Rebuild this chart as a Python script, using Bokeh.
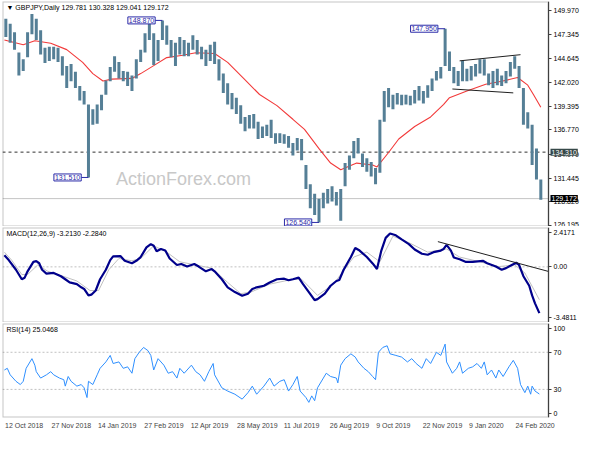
from bokeh.plotting import figure
from bokeh.models import (Range1d, LinearAxis, FixedTicker, Label, BoxAnnotation,
                          ColumnDataSource, PrintfTickFormatter)
from bokeh.layouts import column
from bokeh.embed import file_html
from bokeh.resources import INLINE

# ---------------- data ----------------
title_price = "\u25bc GBPJPY,Daily  129.781 130.328 129.041 129.172"
title_macd = "MACD(12,26,9) -3.2130 -2.2840"
title_rsi = "RSI(14) 25.0468"

# 3-session bars: highs / lows
bar_high = [149.05, 148.51, 147.56, 145.33, 144.58, 147.56, 149.58, 149.05, 147.77, 145.86,
            145.96, 145.96, 145.86, 144.90, 143.84, 144.05, 143.20, 141.61, 141.07, 139.58,
            139.05, 139.58, 140.65, 142.24, 143.73, 144.90, 144.26, 143.29, 143.20, 142.77,
            144.58, 145.64, 147.45, 148.62, 147.45, 146.71, 148.87, 148.30, 146.71, 146.39,
            147.03, 146.71, 146.39, 147.24, 146.71, 145.96, 145.64, 146.18, 146.50, 144.58,
            142.99, 141.92, 140.86, 140.33, 139.48, 138.20, 138.42, 138.52, 137.67, 137.14,
            137.35, 137.89, 136.40, 136.40, 136.29, 136.08, 135.33, 135.86, 135.76, 132.89,
            130.76, 129.70, 129.17, 129.81, 130.23, 130.55, 129.91, 130.23, 133.10, 133.95,
            135.55, 135.86, 134.16, 133.63, 133.21, 132.57, 137.89, 141.07, 141.39, 140.65,
            140.86, 140.65, 140.65, 140.54, 141.18, 141.61, 141.07, 141.71, 142.46, 143.29,
            143.73, 147.95, 145.43, 143.73, 143.29, 144.37, 143.52, 143.84, 144.05, 144.58,
            144.58, 142.99, 143.29, 143.52, 142.77, 143.29, 144.26, 144.90, 143.84, 141.39,
            138.73, 137.35, 134.70, 131.29]
bar_low = [147.03, 146.39, 145.64, 142.77, 143.29, 144.79, 147.35, 146.71, 145.11, 144.16,
           144.37, 144.58, 144.26, 142.77, 141.39, 142.14, 141.39, 140.01, 139.58, 131.51,
           137.35, 137.46, 138.95, 140.65, 142.14, 143.20, 142.46, 142.14, 141.61, 141.07,
           142.46, 144.26, 145.33, 146.71, 143.94, 144.37, 146.71, 146.18, 144.79, 143.84,
           145.11, 144.90, 144.90, 145.64, 145.11, 144.58, 143.84, 144.37, 144.05, 142.24,
           140.86, 139.58, 139.05, 138.52, 137.46, 136.61, 136.93, 136.93, 135.76, 135.86,
           136.08, 135.86, 135.23, 135.33, 135.23, 134.80, 133.95, 134.48, 133.42, 130.23,
           128.10, 127.36, 126.54, 128.10, 128.64, 128.85, 128.42, 126.72, 130.55, 132.36,
           133.63, 134.16, 132.68, 132.14, 131.61, 130.76, 132.04, 137.67, 139.27, 139.05,
           139.58, 139.48, 139.58, 139.48, 139.69, 140.01, 139.69, 140.33, 141.07, 142.24,
           142.46, 143.84, 143.29, 141.92, 141.61, 142.14, 142.14, 142.24, 142.67, 142.99,
           142.77, 141.71, 141.39, 141.71, 141.61, 141.92, 142.67, 143.52, 141.39, 137.35,
           136.93, 132.89, 131.29, 129.04]
bar_day = [3 * k + 1 for k in range(len(bar_high))]

# moving average (red)
ma_day = [0, 13, 21, 32, 43, 54, 61, 68, 74, 88, 94, 103, 112, 123, 132, 145, 154, 165, 176, 188,
          199, 207, 217, 225, 232, 243, 254, 257, 265, 272, 283, 294, 303, 307, 319, 332, 343, 354,
          361, 365, 370]
ma_val = [146.71, 146.18, 146.63, 146.35, 145.64, 144.23, 142.99, 142.17, 142.38, 142.46, 142.99,
          143.87, 144.76, 145.01, 145.29, 145.22, 144.23, 142.46, 140.68, 139.45, 137.94, 136.82,
          134.69, 133.10, 132.36, 133.10, 132.89, 132.68, 134.27, 135.76, 137.14, 138.20, 139.58,
          140.33, 141.07, 141.82, 142.14, 142.56, 141.71, 140.65, 139.27]

# marked extremes
marked_highs = [148.87, 147.95]
marked_lows = [131.51, 126.54]

# horizontal levels
level_dashed = 134.31
level_last = 129.172

# channel lines (day, price)
chan_up_day = [314, 356]
chan_up_val = [144.40, 145.08]
chan_lo_day = [309, 351]
chan_lo_val = [141.29, 140.86]

price_ticks = [126.195, 128.820, 131.445, 134.070, 136.770, 139.395, 142.020, 144.645, 147.345, 149.970]

# MACD main / signal
macd_day = [0, 3, 8, 12, 14, 16, 20, 22, 24, 26, 29, 34, 39, 42, 45, 50, 53, 55, 58, 60,
            63, 66, 70, 73, 75, 80, 83, 88, 91, 94, 98, 101, 103, 105, 108, 111, 114, 119, 122, 126,
            131, 134, 139, 143, 145, 150, 154, 159, 164, 168, 171, 174, 179, 183, 188, 193, 196, 199, 203, 206,
            210, 214, 216, 221, 225, 229, 231, 234, 239, 242, 245, 250, 254, 257, 260, 263, 266, 270, 274, 279,
            283, 288, 292, 296, 301, 303, 305, 308, 310, 314, 318, 323, 330, 333, 339, 343, 346, 350, 353, 355,
            358, 362, 364, 366, 369]
macd_val = [0.80, 0.47, -0.20, -0.86, -0.75, -0.31, 0.35, 0.40, 0.25, -0.20,
            -0.47, -0.42, -0.65, -0.86, -1.08, -1.20, -1.42, -1.53, -1.98, -1.93,
            -1.64, -0.86, -0.20, 0.47, 0.73, 0.75, 0.42, 0.25, 0.42, 0.68,
            1.35, 1.58, 1.46, 1.08, 1.24, 1.13, 0.58, 0.13, 0.20, 0.02,
            0.20, 0.02, -0.31, -0.15, -0.31, -0.86, -1.42, -1.75, -2.01, -1.86,
            -1.53, -1.42, -1.31, -1.08, -0.86, -0.82, -0.93, -0.86, -0.75, -1.20,
            -1.75, -2.31, -2.24, -1.86, -1.31, -0.98, -0.91, -0.20, 0.68, 1.31,
            1.13, 0.68, 0.24, -0.15, 1.13, 2.01, 2.31, 2.19, 1.91, 1.58,
            1.20, 0.91, 0.84, 1.02, 1.13, 1.24, 1.53, 1.13, 0.65, 0.53,
            0.35, 0.35, 0.42, 0.25, 0.02, -0.20, -0.09, 0.13, 0.29, 0.13,
            -0.65, -1.31, -1.98, -2.53, -3.21]
sig_day = [0, 5, 12, 16, 23, 30, 39, 50, 59, 65, 72, 79, 88, 94, 103, 112, 121, 132, 143, 154,
           163, 170, 183, 199, 205, 216, 227, 241, 250, 259, 268, 279, 292, 305, 314, 328, 341, 352, 359, 369]
sig_val = [1.02, 0.47, -0.53, -0.53, 0.13, -0.31, -0.60, -0.98, -1.64, -1.64,
           -0.20, 0.58, 0.42, 0.58, 1.46, 1.02, 0.35, 0.13, -0.09, -1.08,
           -1.86, -1.75, -1.20, -0.86, -0.86, -1.98, -1.20, 0.68, 1.02, 0.35,
           2.13, 1.68, 1.02, 1.24, 0.68, 0.35, 0.02, 0.13, -0.42, -2.28]
macd_trend_day = [299, 375]
macd_trend_val = [1.75, -0.31]
macd_ticks = [-3.4811, 0.0, 2.4171]

# RSI(14)
rsi_day = [0, 2, 4, 8, 11, 13, 15, 19, 21, 22, 25, 29, 32, 34, 38, 41, 42, 44, 46, 50,
           53, 55, 57, 58, 61, 64, 66, 70, 73, 75, 79, 82, 85, 88, 90, 93, 96, 99, 101, 103,
           106, 110, 113, 116, 119, 121, 124, 129, 132, 135, 138, 141, 144, 145, 150, 154, 159, 164, 168, 171,
           174, 179, 183, 186, 190, 193, 196, 199, 202, 204, 208, 210, 212, 214, 216, 220, 222, 225, 229, 230,
           232, 235, 239, 242, 244, 248, 251, 254, 256, 258, 261, 264, 266, 270, 274, 278, 281, 284, 288, 291,
           294, 298, 301, 304, 305, 309, 312, 314, 316, 320, 323, 326, 329, 331, 333, 336, 339, 341, 344, 348,
           351, 354, 356, 359, 361, 363, 364, 366, 369]
rsi_val = [50.9, 52.7, 45.7, 38.7, 35.2, 38.7, 52.7, 63.1, 56.1, 49.1,
           42.2, 45.7, 49.1, 45.7, 42.2, 40.4, 33.5, 43.9, 38.7, 33.5,
           35.2, 31.7, 21.2, 38.7, 35.2, 45.7, 52.7, 59.6, 66.6, 57.9,
           59.6, 52.7, 54.3, 47.4, 63.1, 70.0, 75.2, 71.8, 66.6, 50.9,
           63.1, 56.1, 47.4, 49.1, 42.2, 52.7, 47.4, 56.1, 49.1, 45.7,
           38.7, 49.1, 57.9, 45.7, 31.7, 28.2, 24.8, 19.5, 26.5, 33.5,
           24.8, 33.5, 42.2, 33.5, 38.7, 40.4, 28.2, 35.2, 43.9, 28.2,
           21.2, 16.0, 23.0, 17.8, 31.7, 42.2, 47.4, 43.9, 42.2, 37.0,
           56.1, 63.1, 68.3, 64.8, 59.6, 52.7, 49.1, 43.9, 40.4, 70.0,
           75.2, 77.0, 68.3, 66.6, 64.8, 59.6, 63.1, 57.9, 52.7, 63.1,
           57.9, 70.0, 66.6, 78.8, 59.6, 47.4, 52.7, 59.6, 47.4, 52.7,
           54.3, 57.9, 52.7, 59.6, 45.7, 50.9, 42.2, 50.9, 43.9, 54.3,
           61.3, 52.7, 35.2, 26.5, 33.5, 24.8, 33.5, 28.2, 25.0]
rsi_levels = [30, 70]

date_tick_day = [0, 32, 64, 96, 128, 160, 192, 224, 256, 288, 320, 352]
date_tick_label = ["12 Oct 2018", "27 Nov 2018", "14 Jan 2019", "27 Feb 2019", "12 Apr 2019",
                   "28 May 2019", "11 Jul 2019", "26 Aug 2019", "9 Oct 2019", "22 Nov 2019",
                   "9 Jan 2020", "24 Feb 2020"]

# ---------------- styling ----------------
FONT = "Liberation Sans"
FS = "7px"
FS_PX = 7
FRAME = "#404040"
W = 584
LB = 2
AXIS_W = 36                      # width of the price-scale strip at the right
X0, X_AXIS = -1.3, 375.3         # visible session span (axis line at X_AXIS)
PX_PER_DAY = (W - LB - AXIS_W) / (X_AXIS - X0)
xr = Range1d(X0, X_AXIS + AXIS_W / PX_PER_DAY)

# Arial-like advance widths (em) used to left-align the date labels at their dates
_CW = {" ": 0.278, "0": 0.556, "1": 0.556, "2": 0.556, "3": 0.556, "4": 0.556, "5": 0.556,
       "6": 0.556, "7": 0.556, "8": 0.556, "9": 0.556, "O": 0.778, "N": 0.722, "J": 0.5,
       "F": 0.611, "A": 0.667, "M": 0.833, "c": 0.5, "t": 0.278, "o": 0.556, "v": 0.5,
       "a": 0.556, "n": 0.556, "e": 0.556, "b": 0.556, "p": 0.556, "r": 0.333, "y": 0.5,
       "u": 0.556, "l": 0.222, "g": 0.556}


def text_days(s):
    return sum(_CW.get(ch, 0.556) for ch in s) * FS_PX / PX_PER_DAY


def base_fig(h, yr, top=1, bottom=0):
    p = figure(width=W, height=h, x_range=xr, y_range=yr, output_backend="svg",
               toolbar_location=None, x_axis_location=None, y_axis_location=None,
               min_border_left=LB, min_border_right=0, min_border_top=top,
               min_border_bottom=bottom)
    p.grid.visible = False
    p.outline_line_color = None
    p.background_fill_color = "white"
    p.border_fill_color = "white"
    p.add_layout(BoxAnnotation(left=X0, right=X_AXIS, bottom=yr.start, top=yr.end,
                               fill_color=None, line_color=FRAME, line_width=2))
    return p


def right_axis(p, ticks, fmt=None, overrides=None):
    ax = LinearAxis(ticker=FixedTicker(ticks=ticks), fixed_location=X_AXIS)
    if fmt:
        ax.formatter = PrintfTickFormatter(format=fmt)
    if overrides:
        ax.major_label_overrides = overrides
    ax.axis_line_color = FRAME
    ax.major_tick_out = 3
    ax.major_tick_in = 0
    ax.minor_tick_line_color = None
    ax.major_tick_line_color = FRAME
    ax.major_label_standoff = 2
    ax.major_label_text_font = FONT
    ax.major_label_text_font_size = FS
    ax.major_label_text_color = "black"
    p.add_layout(ax, "right")
    return ax


def hline(p, y, color, dash="solid"):
    p.line([X0, X_AXIS], [y, y], line_color=color, line_dash=dash, line_width=1)


def title(p, text):
    p.add_layout(Label(x=X0, y=p.y_range.end, x_offset=4, y_offset=-2,
                       text=text, text_baseline="top", text_align="left",
                       text_font=FONT, text_font_size=FS, text_color="black"))


def scale_box(p, y, text, bg):
    p.add_layout(Label(x=X_AXIS, y=y, x_offset=2, text=text, text_align="left",
                       text_baseline="middle", text_font=FONT, text_font_size=FS,
                       text_color="white", background_fill_color=bg, padding=1))


# ---------------- price panel ----------------
p1 = base_fig(226, Range1d(126.09, 150.96))
p1.add_layout(Label(x=77, y=131.3, text="ActionForex.com", text_font=FONT,
                    text_font_size="18px", text_color="#c8c8c8", text_baseline="middle",
                    level="underlay"))
hline(p1, level_dashed, "#303030", "3 3")
hline(p1, level_last, "#c4c4c4")
p1.line(ma_day, ma_val, line_color="#f23a3a", line_width=1.1)
bars = ColumnDataSource(dict(d=bar_day, hi=bar_high, lo=bar_low))
p1.segment(x0="d", y0="lo", x1="d", y1="hi", source=bars, line_color="#557f96", line_width=3)
p1.line(chan_up_day, chan_up_val, line_color="#202020", line_width=1)
p1.line(chan_lo_day, chan_lo_val, line_color="#202020", line_width=1)

BLUE = "#2a2aa8"
marks = [(v, bar_day[bar_high.index(v)]) for v in marked_highs] + \
        [(v, bar_day[bar_low.index(v)]) for v in marked_lows]
for v, d in marks:
    p1.line([d - 5, d], [v, v], line_color=BLUE, line_width=1)
    p1.add_layout(Label(x=d - 5, y=v, text=f"{v:.3f}", text_align="right",
                        text_baseline="middle", text_font=FONT, text_font_size=FS,
                        text_color=BLUE, background_fill_color="white",
                        border_line_color=BLUE, border_line_width=1, padding=1))

right_axis(p1, price_ticks, fmt="%.3f")
scale_box(p1, level_dashed, f"{level_dashed:.3f}", "#364848")
scale_box(p1, level_last, f"{level_last:.3f}", "black")
title(p1, title_price)

# ---------------- MACD panel ----------------
p2 = base_fig(96, Range1d(-3.86, 2.73))
hline(p2, 0, "#c0c0c0", "2 2")
p2.line(sig_day, sig_val, line_color="#c0c0c0", line_width=1)
p2.line(macd_day, macd_val, line_color="#00008b", line_width=2.2)
p2.line(macd_trend_day, macd_trend_val, line_color="#202020", line_width=1)
right_axis(p2, macd_ticks, fmt="%.4f", overrides={0: "0.00"})
title(p2, title_macd)

# ---------------- RSI panel ----------------
p3 = base_fig(112, Range1d(-0.3, 101), bottom=17)
for lv in rsi_levels:
    hline(p3, lv, "#c0c0c0", "2 2")
p3.line(rsi_day, rsi_val, line_color="#2e8fff", line_width=1)
right_axis(p3, [4.5, 30, 70, 95.5], overrides={4.5: "0", 30: "30", 70: "70", 95.5: "100"})
title(p3, title_rsi)

# date labels start at their date (label centre = date + half the label width)
date_pos = [d + text_days(t) / 2 + 0.5 for d, t in zip(date_tick_day, date_tick_label)]
xa = LinearAxis(ticker=FixedTicker(ticks=date_pos),
                major_label_overrides={p: t for p, t in zip(date_pos, date_tick_label)})
xa.axis_line_color = None
xa.major_tick_out = 0
xa.major_tick_in = 0
xa.major_tick_line_color = None
xa.minor_tick_line_color = None
xa.major_label_standoff = 4
xa.major_label_text_font = FONT
xa.major_label_text_font_size = FS
p3.add_layout(xa, "below")

layout = column(p1, p2, p3, spacing=0)
open("out.html", "w").write(file_html(layout, INLINE))
